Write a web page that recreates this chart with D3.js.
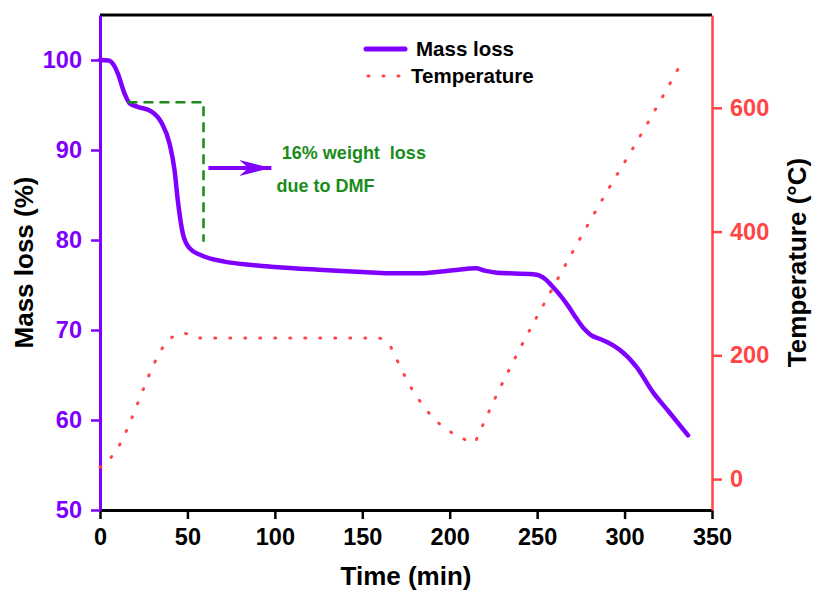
<!DOCTYPE html>
<html>
<head>
<meta charset="utf-8">
<script src="https://cdn.jsdelivr.net/npm/d3@7"></script>
<style>
    body { margin: 0; background: #fff; }
    svg { display: block; font-family: Arial, 'Liberation Sans', sans-serif; font-weight: bold; }
</style>
</head>
<body>
<svg id="chart" width="813" height="591"></svg>
<script>
/**
 * Data.
 */
const massTime = [0, 5, 8, 10.2, 14, 16.9, 21.6, 29.3, 35, 39.8, 42.6, 44.5, 47.4, 51.2, 57.9, 71.2,
    85, 100, 125, 150, 165, 183, 202, 215, 220, 227, 247.6, 251.4, 255, 258, 263, 268, 272.4,
    277, 281, 286, 290.5, 297.2, 306.8, 316.2, 325, 336.3];
const massValues = [100, 99.95, 99.4, 98.5, 96.3, 95.2, 94.8, 94.3, 93.1, 90.7, 87.8, 84.4, 80.7, 79.1, 78.3, 77.6,
    77.25, 77.0, 76.7, 76.45, 76.3, 76.3, 76.65, 76.86, 76.6, 76.37, 76.2, 76.05, 75.6, 75.0, 73.9, 72.6, 71.3,
    70.1, 69.4, 69.0, 68.6, 67.8, 65.9, 63.1, 61.0, 58.3];

const tempTime = [0, 6, 41.1, 47.4, 56.4, 158.9, 165.2, 169.4, 173.2, 177, 181.5, 186.6, 192.3, 199, 206.6,
    213.7, 218, 225, 240, 257, 290, 308, 334];
const tempValues = [19, 34, 229, 236, 228, 228, 218, 195, 173, 152, 132, 112, 94, 79, 67,
    59, 82, 125, 210, 299, 465, 550, 680];

const timeTicks = [0, 50, 100, 150, 200, 250, 300, 350];
const massTicks = [50, 60, 70, 80, 90, 100];
const tempTicks = [0, 200, 400, 600];

const seriesNames = ['Mass loss', 'Temperature'];

// DMF step marker (time, mass)
const dmfStepTime = [15.7, 59.2, 59.2];
const dmfStepMass = [95.3, 95.3, 79.8];
const noteLines = ['16% weight  loss', 'due to DMF'];

/**
 * Visual configs.
 */
const margin = { top: 15, right: 101, bottom: 81, left: 100 };
const visWidth = 813, visHeight = 591,
    width = visWidth - margin.left - margin.right,
    height = visHeight - margin.top - margin.bottom;

const purple = '#8000ff', red = '#ff4545', green = '#1a8c1a';
const dots = '1 14';

/**
 * Scales.
 */
const xScale = d3.scaleLinear().domain([0, 350]).range([0, width]),
    yScale = d3.scaleLinear().domain([50, 105]).range([height, 0]),
    y2Scale = d3.scaleLinear().domain([-50, 750]).range([height, 0]);

const svg = d3.select('#chart');
const g = svg.append('g').attr('transform', 'translate(' + margin.left + ',' + margin.top + ')');

/**
 * Axes.
 */
function styleAxis(selection, color, lineWidth) {
    selection.attr('font-family', null).attr('font-size', null);
    selection.select('.domain').attr('stroke', color).attr('stroke-width', lineWidth);
    selection.selectAll('.tick line').attr('stroke', color).attr('stroke-width', 2.5);
    selection.selectAll('.tick text').attr('fill', color).style('font-size', '23.5px');
}

// Top border
g.append('line')
    .attr('x1', 0).attr('x2', width)
    .attr('stroke', '#000').attr('stroke-width', 3);

g.append('g')
    .attr('transform', 'translate(0,' + height + ')')
    .call(d3.axisBottom(xScale).tickValues(timeTicks).tickSize(9).tickPadding(9).tickSizeOuter(0))
    .call(styleAxis, '#000', 3);

g.append('g')
    .call(d3.axisLeft(yScale).tickValues(massTicks).tickSize(9).tickPadding(9).tickSizeOuter(0))
    .call(styleAxis, purple, 3);

g.append('g')
    .attr('transform', 'translate(' + width + ',0)')
    .call(d3.axisRight(y2Scale).tickValues(tempTicks).tickSize(10).tickPadding(8).tickSizeOuter(0))
    .call(styleAxis, red, 2.5);

// Axis titles
svg.append('text')
    .attr('x', margin.left + width / 2).attr('y', 585)
    .attr('text-anchor', 'middle').style('font-size', '26px')
    .text('Time (min)');
svg.append('text')
    .attr('transform', 'translate(33,' + (margin.top + height / 2) + ') rotate(-90)')
    .attr('text-anchor', 'middle').style('font-size', '26px')
    .text('Mass loss (%)');
svg.append('text')
    .attr('transform', 'translate(806,' + (margin.top + height / 2) + ') rotate(-90)')
    .attr('text-anchor', 'middle').style('font-size', '26px')
    .text('Temperature (°C)');

/**
 * Series.
 */
const tempLine = d3.line()
    .x(i => xScale(tempTime[i]))
    .y(i => y2Scale(tempValues[i]))
    .curve(d3.curveMonotoneX);
g.append('path')
    .attr('d', tempLine(d3.range(tempTime.length)))
    .attr('fill', 'none')
    .attr('stroke', red)
    .attr('stroke-width', 3)
    .attr('stroke-linecap', 'round')
    .attr('stroke-dasharray', dots);

const massLine = d3.line()
    .x(i => xScale(massTime[i]))
    .y(i => yScale(massValues[i]))
    .curve(d3.curveMonotoneX);
g.append('path')
    .attr('d', massLine(d3.range(massTime.length)))
    .attr('fill', 'none')
    .attr('stroke', purple)
    .attr('stroke-width', 4.5)
    .attr('stroke-linejoin', 'round')
    .attr('stroke-linecap', 'round');

/**
 * Annotation.
 */
const stepLine = d3.line()
    .x(i => xScale(dmfStepTime[i]))
    .y(i => yScale(dmfStepMass[i]));
g.append('path')
    .attr('d', stepLine(d3.range(dmfStepTime.length)))
    .attr('fill', 'none')
    .attr('stroke', green)
    .attr('stroke-width', 2.5)
    .attr('stroke-dasharray', '10 6');

svg.append('defs').append('marker')
    .attr('id', 'head')
    .attr('markerUnits', 'userSpaceOnUse')
    .attr('markerWidth', 32).attr('markerHeight', 16)
    .attr('refX', 32).attr('refY', 8)
    .attr('orient', 'auto')
    .append('path')
    .attr('d', 'M0,0L32,8L0,16L9,8Z')
    .attr('fill', purple);

g.append('line')
    .attr('x1', xScale(62)).attr('x2', xScale(98))
    .attr('y1', yScale(88)).attr('y2', yScale(88))
    .attr('stroke', purple).attr('stroke-width', 4)
    .attr('marker-end', 'url(#head)');

g.selectAll('.note').data(noteLines)
    .enter().append('text')
    .attr('class', 'note')
    .attr('x', (d, i) => xScale(i === 0 ? 104 : 101))
    .attr('y', (d, i) => yScale(i === 0 ? 89 : 85.3))
    .attr('fill', green)
    .style('font-size', '18px')
    .style('white-space', 'pre')
    .text(d => d);

/**
 * Legend.
 */
const legend = svg.append('g').attr('transform', 'translate(366,49)');
const items = legend.selectAll('.legend-item').data(seriesNames)
    .enter().append('g')
    .attr('class', 'legend-item')
    .attr('transform', (d, i) => 'translate(0,' + i * 27 + ')');
items.append('line')
    .attr('x1', (d, i) => i === 0 ? 0 : 2)
    .attr('x2', (d, i) => i === 0 ? 39 : 33)
    .attr('stroke', (d, i) => i === 0 ? purple : red)
    .attr('stroke-width', (d, i) => i === 0 ? 5 : 3)
    .attr('stroke-linecap', 'round')
    .attr('stroke-dasharray', (d, i) => i === 0 ? null : dots);
items.append('text')
    .attr('x', (d, i) => i === 0 ? 50 : 45)
    .attr('y', 6.5)
    .style('font-size', '20.5px')
    .text(d => d);
</script>
</body>
</html>
